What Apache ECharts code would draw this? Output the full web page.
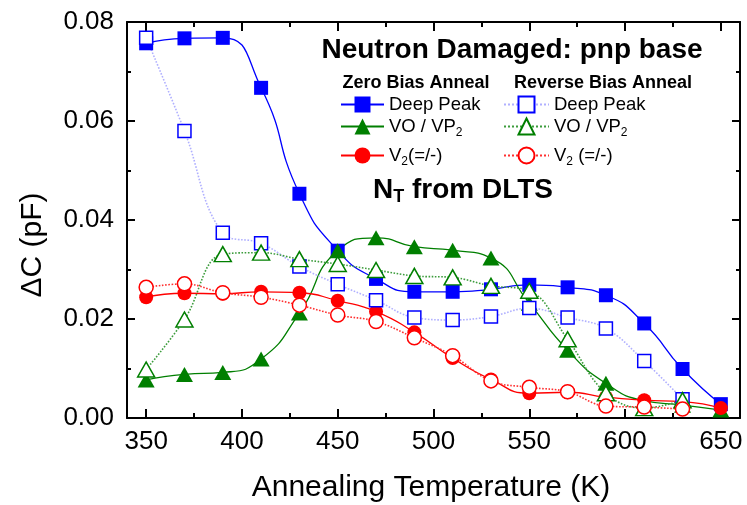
<!DOCTYPE html>
<html>
<head>
<meta charset="utf-8">
<script src="https://cdn.jsdelivr.net/npm/echarts@6/dist/echarts.min.js"></script>
<style>html,body{margin:0;padding:0;background:#fff;}#c{width:747px;height:505px;}</style>
</head>
<body>
<div id="c"></div>
<script>
// ---- data ----
const tempsZero = [350,370,390,410,430,450,470,490,510,530,550,570,590,610,630,650];
const tempsRev  = [350,370,390,410,430,450,470,490,510,530,550,570,590,610,630];
const zeroDeep = [0.0757,0.0767,0.0768,0.0667,0.0453,0.0338,0.0281,0.0255,0.0255,0.0260,0.0269,0.0264,0.0248,0.0191,0.0099,0.0028];
const zeroVO   = [0.0077,0.0088,0.0092,0.0119,0.0212,0.0338,0.0364,0.0346,0.0339,0.0323,0.0232,0.0137,0.0070,0.0035,0.0026,0.0016];
const zeroV2   = [0.0244,0.0252,0.0251,0.0255,0.0253,0.0237,0.0215,0.0173,0.0121,0.0078,0.0050,0.0052,0.0042,0.0036,0.0033,0.0020];
const revDeep  = [0.0768,0.0580,0.0374,0.0353,0.0306,0.0270,0.0238,0.0203,0.0198,0.0205,0.0222,0.0203,0.0181,0.0115,0.0038];
const revVO    = [0.0098,0.0199,0.0331,0.0334,0.0321,0.0311,0.0299,0.0287,0.0284,0.0267,0.0257,0.0159,0.0050,0.0020,0.0036];
const revV2    = [0.0264,0.0271,0.0253,0.0244,0.0228,0.0208,0.0195,0.0162,0.0126,0.0075,0.0062,0.0053,0.0024,0.0022,0.0018];
const xMajorTicks = [350,400,450,500,550,600,650];
const xMinorTicks = [375,425,475,525,575,625];
const legendLabels = {
  zbDeep: 'Deep Peak', zbVO: 'VO / VP{sub|2}', zbV2: 'V{sub|2}(=/-)',
  rbDeep: 'Deep Peak', rbVO: 'VO / VP{sub|2}', rbV2: 'V{sub|2} (=/-)'
};

const FF = '"Liberation Sans", Arial, sans-serif';
const pair = (xs, ys) => xs.map((x, i) => [x, ys[i]]);
const chart = echarts.init(document.getElementById('c'), null, {renderer: 'canvas'});

const BLUE = '#0000ff', GREEN = '#007f00', RED = '#ff0000';

function xAx(pos, ticks, len, showLine, showLabel) {
  return {
    type: 'value', position: pos, min: 340, max: 660, gridIndex: 0,
    axisLine: {show: showLine, onZero: false, lineStyle: {color: '#000', width: 2}},
    axisTick: {show: true, inside: true, length: len, customValues: ticks, lineStyle: {color: '#000', width: 2}},
    axisLabel: {show: showLabel, customValues: ticks, fontSize: 26, fontFamily: FF, color: '#000', margin: 11},
    splitLine: {show: false}
  };
}
function yAx(pos, showLabel) {
  return {
    type: 'value', position: pos, min: 0, max: 0.08, interval: 0.02,
    axisLine: {show: true, onZero: false, lineStyle: {color: '#000', width: 2}},
    axisTick: {show: true, inside: true, length: 8, lineStyle: {color: '#000', width: 2}},
    minorTick: {show: true, splitNumber: 2, length: 4, lineStyle: {color: '#000', width: 2}},
    axisLabel: {show: showLabel, fontSize: 26, fontFamily: FF, color: '#000', margin: 13,
      formatter: v => v.toFixed(2)},
    splitLine: {show: false}
  };
}

const richSub = {sub: {fontSize: 12, fontFamily: FF, color: '#000', padding: [12, 0, 0, 0]}};

function legendAt(name, left, top, w) {
  return {
    data: [name], left: left, top: top, orient: 'horizontal',
    itemWidth: w, itemHeight: 20, selectedMode: false, padding: 0,
    formatter: n => legendLabels[n],
    textStyle: {fontSize: 18.5, fontFamily: FF, color: '#000', rich: richSub}
  };
}

function zeroSeries(name, ys, color, symbol, size) {
  return {
    name: name, type: 'line', data: pair(tempsZero, ys), smooth: 0.55,
    symbol: symbol, symbolSize: size,
    lineStyle: {color: color, width: 1.3},
    itemStyle: {color: color, borderWidth: 0},
    emphasis: {disabled: true}
  };
}
function revSeries(name, ys, color, lineColor, symbol, size) {
  return {
    name: name, type: 'line', data: pair(tempsRev, ys), smooth: 0.4,
    symbol: symbol, symbolSize: size,
    lineStyle: {color: lineColor, width: 1.6, type: 'dotted'},
    itemStyle: {color: '#ffffff', borderColor: color, borderWidth: 1.5},
    emphasis: {disabled: true}
  };
}

chart.setOption({
  animation: false,
  backgroundColor: '#fff',
  grid: {left: 127, right: 7, top: 22, bottom: 87, containLabel: false},
  xAxis: [
    xAx('bottom', xMajorTicks, 9, true, true),
    xAx('bottom', xMinorTicks, 5, false, false),
    xAx('top', xMajorTicks, 9, true, false),
    xAx('top', xMinorTicks, 5, false, false)
  ],
  yAxis: [yAx('left', true), yAx('right', false)],
  legend: [
    legendAt('zbDeep', 340, 95, 43),
    legendAt('zbVO', 340, 117, 43),
    legendAt('zbV2', 340, 146, 43),
    legendAt('rbDeep', 503, 95, 45),
    legendAt('rbVO', 503, 117, 45),
    legendAt('rbV2', 503, 146, 45)
  ],
  series: [
    zeroSeries('zbDeep', zeroDeep, BLUE, 'rect', 14),
    zeroSeries('zbVO', zeroVO, GREEN, 'triangle', [17, 15]),
    zeroSeries('zbV2', zeroV2, RED, 'circle', 14),
    revSeries('rbDeep', revDeep, BLUE, '#b0b0ff', 'rect', 13),
    revSeries('rbVO', revVO, GREEN, '#3c9c3c', 'triangle', [17, 15]),
    revSeries('rbV2', revV2, RED, '#ff3030', 'circle', 14)
  ],
  graphic: [
    {type: 'text', x: 512, y: 50, style: {text: 'Neutron Damaged: pnp base', font: 'bold 28px ' + FF, fill: '#000', align: 'center', verticalAlign: 'middle'}},
    {type: 'text', x: 416, y: 83, style: {text: 'Zero Bias Anneal', font: 'bold 18px ' + FF, fill: '#000', align: 'center', verticalAlign: 'middle'}},
    {type: 'text', x: 603, y: 83, style: {text: 'Reverse Bias Anneal', font: 'bold 18px ' + FF, fill: '#000', align: 'center', verticalAlign: 'middle'}},
    {type: 'text', x: 463, y: 190, style: {text: 'N{t|T} from DLTS', font: 'bold 28px ' + FF, fill: '#000', align: 'center', verticalAlign: 'middle',
      rich: {t: {font: 'bold 18px ' + FF, fill: '#000', padding: [15, 0, 0, 0]}}}},
    {type: 'text', x: 431, y: 488, style: {text: 'Annealing Temperature (K)', font: '30px ' + FF, fill: '#000', align: 'center', verticalAlign: 'middle'}},
    {type: 'text', x: 33, y: 245, rotation: Math.PI / 2, style: {text: '\u0394C (pF)', font: '30px ' + FF, fill: '#000', align: 'center', verticalAlign: 'middle'}}
  ]
});
</script>
</body>
</html>
